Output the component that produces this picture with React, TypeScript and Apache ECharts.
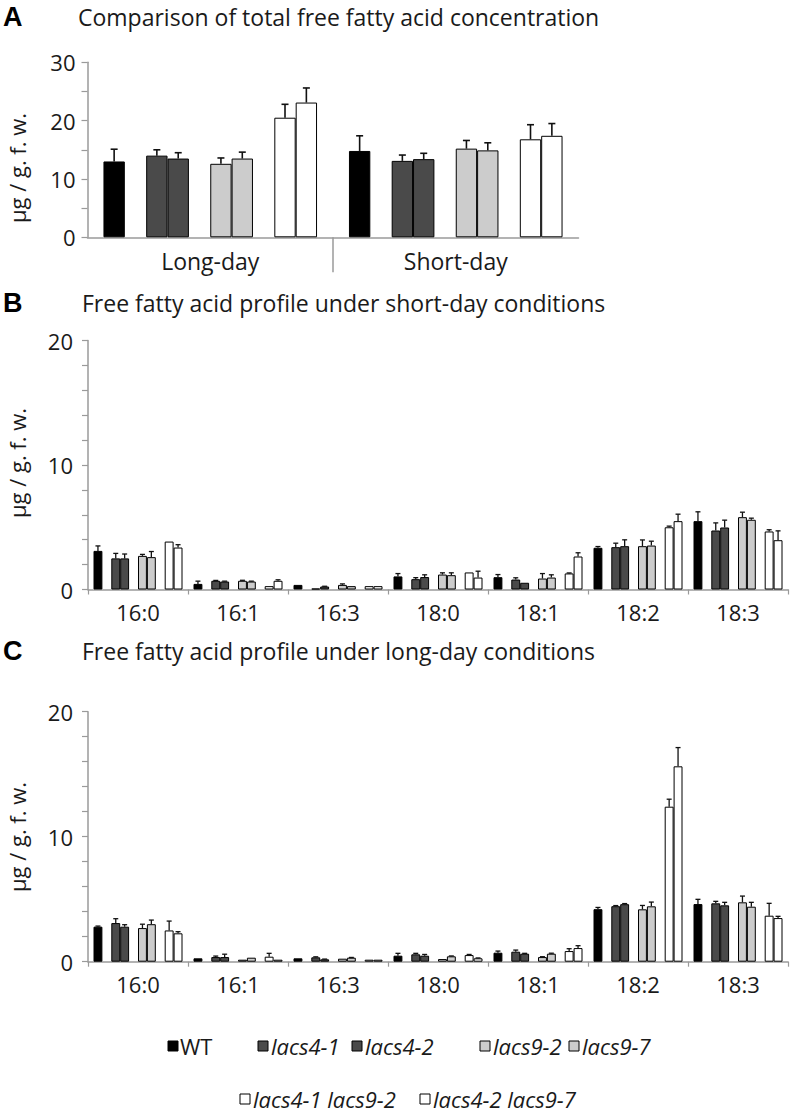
import React, { useEffect, useRef } from "react";
import * as echarts from "echarts";

// ---------- data ----------
const genotypes = ["WT", "lacs4-1", "lacs4-2", "lacs9-2", "lacs9-7", "lacs4-1 lacs9-2", "lacs4-2 lacs9-7"];
const genotypeColors = ["#000000", "#4a4a4a", "#4a4a4a", "#cccccc", "#cccccc", "#ffffff", "#ffffff"];

const conditions = ["Long-day", "Short-day"];
const totalLongDay = [13.0, 14.0, 13.5, 12.6, 13.5, 20.5, 23.1];
const totalLongDayErr = [2.1, 1.0, 1.0, 1.0, 1.1, 2.3, 2.5];
const totalShortDay = [14.8, 13.1, 13.4, 15.2, 14.9, 16.8, 17.4];
const totalShortDayErr = [2.6, 1.0, 1.0, 1.4, 1.3, 2.5, 2.1];

const fattyAcids = ["16:0", "16:1", "16:3", "18:0", "18:1", "18:2", "18:3"];

// rows: genotypes, columns: fatty acids
const shortDayMean = [
  [3.1, 0.45, 0.37, 1.05, 0.99, 3.35, 5.49],
  [2.5, 0.7, 0.08, 0.83, 0.8, 3.4, 4.74],
  [2.5, 0.64, 0.24, 1.0, 0.54, 3.48, 4.98],
  [2.7, 0.7, 0.37, 1.2, 0.88, 3.48, 5.81],
  [2.6, 0.64, 0.27, 1.15, 0.96, 3.53, 5.6],
  [3.85, 0.27, 0.27, 1.37, 1.29, 5.0, 4.66],
  [3.37, 0.7, 0.27, 0.96, 2.65, 5.49, 3.96],
];
const shortDayErr = [
  [0.4, 0.22, 0, 0.23, 0.21, 0.1, 0.75],
  [0.4, 0.03, 0, 0.12, 0.14, 0.32, 0.61],
  [0.35, 0.03, 0.02, 0.18, 0, 0.51, 0.59],
  [0.12, 0.04, 0.08, 0.14, 0.4, 0.5, 0.4],
  [0.45, 0.03, 0, 0.19, 0.22, 0.35, 0.13],
  [0, 0, 0, 0, 0.04, 0.09, 0.14],
  [0.23, 0.08, 0, 0.51, 0.3, 0.56, 0.75],
];
const longDayMean = [
  [2.8, 0.27, 0.27, 0.48, 0.72, 4.2, 4.61],
  [3.09, 0.37, 0.35, 0.59, 0.8, 4.44, 4.67],
  [2.8, 0.37, 0.19, 0.48, 0.64, 4.6, 4.51],
  [2.69, 0.16, 0.24, 0.21, 0.37, 4.19, 4.75],
  [3.0, 0.32, 0.32, 0.43, 0.64, 4.43, 4.4],
  [2.5, 0.4, 0.16, 0.53, 0.85, 12.4, 3.68],
  [2.27, 0.16, 0.16, 0.27, 1.09, 15.63, 3.49],
];
const longDayErr = [
  [0.05, 0, 0, 0.19, 0.13, 0.14, 0.38],
  [0.35, 0.08, 0.04, 0.08, 0.13, 0.05, 0.16],
  [0.16, 0.23, 0.02, 0.1, 0.03, 0.05, 0.24],
  [0.31, 0, 0, 0, 0.03, 0.31, 0.5],
  [0.33, 0, 0.02, 0.03, 0.04, 0.34, 0.35],
  [0.75, 0.27, 0, 0.05, 0.19, 0.6, 0.99],
  [0.13, 0, 0, 0.03, 0.19, 1.5, 0.14],
];

const yTicksA = [0, 10, 20, 30];
const yTicksBC = [0, 10, 20];

// ---------- styling ----------
const FONT = "Open Sans";
const AXIS_GRAY = "#9a9a9a";
const TEXT = "#1a1a1a";
const SLOT_OF = [0, 2, 3, 5, 6, 8, 9]; // bar slot per genotype within a category (10 slots)

function barSeries(xAxisIndex: number, yAxisIndex: number, rows: number[][], catCount: number, gap: number) {
  const out: any[] = [];
  for (let slot = 0; slot < 10; slot++) {
    const gi = SLOT_OF.indexOf(slot);
    if (gi < 0) {
      out.push({
        type: "bar",
        xAxisIndex,
        yAxisIndex,
        barGap: 0,
        barCategoryGap: gap * 100 + "%",
        data: new Array(catCount).fill("-"),
        silent: true,
      });
    } else {
      out.push({
        type: "bar",
        name: genotypes[gi],
        xAxisIndex,
        yAxisIndex,
        barGap: 0,
        barCategoryGap: gap * 100 + "%",
        itemStyle: { color: genotypeColors[gi], borderColor: "#000", borderWidth: 1 },
        data: rows[gi],
      });
    }
  }
  return out;
}

function errSeries(
  xAxisIndex: number,
  yAxisIndex: number,
  means: number[][],
  errs: number[][],
  gap: number,
  capW: number,
  lw: number
) {
  return genotypes.map((_, gi) => {
    const slot = SLOT_OF[gi];
    return {
      type: "custom",
      xAxisIndex,
      yAxisIndex,
      z: 10,
      silent: true,
      data: means[gi].map((m, ci) => [ci, m, errs[gi][ci]]),
      renderItem: (params: any, api: any) => {
        const cat = api.value(0);
        const m = api.value(1);
        const e = api.value(2);
        if (!e) return null;
        const band = api.size([1, 0])[0];
        const slotW = (band * (1 - gap)) / 10;
        const base = api.coord([cat, m]);
        const top = api.coord([cat, m + e]);
        const x = base[0] + (slot - 4.5) * slotW;
        return {
          type: "group",
          children: [
            { type: "line", shape: { x1: x, y1: base[1], x2: x, y2: top[1] }, style: { stroke: "#111", lineWidth: lw } },
            {
              type: "line",
              shape: { x1: x - capW / 2, y1: top[1], x2: x + capW / 2, y2: top[1] },
              style: { stroke: "#111", lineWidth: lw },
            },
          ],
        };
      },
    };
  });
}

function valueAxis(gridIndex: number, max: number, interval: number, labels: number[], margin: number) {
  return {
    type: "value",
    gridIndex,
    min: 0,
    max,
    interval,
    axisLine: { show: true, lineStyle: { color: AXIS_GRAY, width: 1.5 } },
    axisTick: { show: true, inside: false, length: 6, lineStyle: { color: AXIS_GRAY, width: 1.2 } },
    splitLine: { show: false },
    axisLabel: {
      margin,
      color: TEXT,
      fontFamily: FONT,
      fontSize: 22,
      formatter: (v: number) => (labels.indexOf(v) >= 0 ? String(v) : ""),
    },
  };
}

function catAxis(gridIndex: number, data: string[], tickLen: number, showTick: boolean, margin: number, size: number) {
  return {
    type: "category",
    gridIndex,
    data,
    position: "bottom",
    axisLine: { show: true, lineStyle: { color: AXIS_GRAY, width: 1.5 } },
    axisTick: { show: showTick, length: tickLen, lineStyle: { color: AXIS_GRAY, width: 1.2 } },
    axisLabel: { margin, color: TEXT, fontFamily: FONT, fontSize: size },
    splitLine: { show: false },
  };
}

function buildLegend() {
  const row1 = [
    { gi: 0, rx: 168, tx: 180 },
    { gi: 1, rx: 258, tx: 271 },
    { gi: 2, rx: 352, tx: 365 },
    { gi: 3, rx: 480, tx: 493 },
    { gi: 4, rx: 569, tx: 582 },
  ];
  const row2 = [
    { gi: 5, rx: 240, tx: 253 },
    { gi: 6, rx: 420, tx: 433 },
  ];
  const items: any[] = [];
  const add = (list: any[], cy: number) => {
    list.forEach((it) => {
      items.push({
        type: "rect",
        shape: { x: it.rx, y: cy - 5, width: 10, height: 10 },
        style: { fill: genotypeColors[it.gi], stroke: "#000", lineWidth: 1 },
      });
      items.push({
        type: "text",
        x: it.tx,
        y: cy,
        style: {
          text: genotypes[it.gi],
          fill: TEXT,
          font: `${it.gi === 0 ? "normal" : "italic"} 22px "${FONT}"`,
          verticalAlign: "middle",
          textAlign: "left",
        },
      });
    });
  };
  add(row1, 1046);
  add(row2, 1099);
  return items;
}

function titles() {
  const t: any[] = [];
  const panel = (letter: string, ly: number, text: string, tx: number) => {
    t.push({
      type: "text",
      x: 3,
      y: ly,
      style: { text: letter, fill: "#000", font: `bold 27px "Liberation Sans"`, verticalAlign: "middle" },
    });
    t.push({
      type: "text",
      x: tx,
      y: ly,
      style: { text, fill: TEXT, font: `23px "${FONT}"`, verticalAlign: "middle" },
    });
  };
  panel("A", 17, "Comparison of total free fatty acid concentration", 78);
  panel("B", 303, "Free fatty acid profile under short-day conditions", 82);
  panel("C", 651, "Free fatty acid profile under long-day conditions", 82);
  const yName = (cy: number) => ({
    type: "text",
    x: 17,
    y: cy,
    rotation: Math.PI / 2,
    style: {
      text: "µg / g. f. w.",
      fill: TEXT,
      font: `22px "${FONT}"`,
      textAlign: "center",
      verticalAlign: "middle",
    },
  });
  t.push(yName(168));
  t.push(yName(463));
  t.push(yName(837));
  return t;
}

export default function App() {
  const ref = useRef<HTMLDivElement>(null);
  useEffect(() => {
    if (!ref.current) return;
    const chart = echarts.init(ref.current, null, { renderer: "svg" });
    const gapA = 0.13;
    const gapBC = 0.11;
    const aRows = genotypes.map((_, gi) => [totalLongDay[gi], totalShortDay[gi]]);
    const aErrs = genotypes.map((_, gi) => [totalLongDayErr[gi], totalShortDayErr[gi]]);
    const option: any = {
      animation: false,
      backgroundColor: "#ffffff",
      grid: [
        { left: 87.5, top: 62.3, width: 491, height: 175, containLabel: false },
        { left: 88, top: 340.5, width: 700, height: 249, containLabel: false },
        { left: 88, top: 711.7, width: 700, height: 250, containLabel: false },
      ],
      xAxis: [
        catAxis(0, conditions, 5, false, 12, 23),
        {
          type: "value",
          gridIndex: 0,
          position: "bottom",
          min: 0,
          max: 2,
          interval: 1,
          axisLine: { show: false },
          axisLabel: { show: false },
          splitLine: { show: false },
          axisTick: { show: true, customValues: [1], length: 35, lineStyle: { color: AXIS_GRAY, width: 1.5 } },
        },
        catAxis(1, fattyAcids, 5, true, 11, 22),
        catAxis(2, fattyAcids, 5, true, 11, 22),
      ],
      yAxis: [
        valueAxis(0, 30, 5, yTicksA, 12),
        valueAxis(1, 20, 2, yTicksBC, 15),
        valueAxis(2, 20, 2, yTicksBC, 15),
      ],
      series: [
        ...barSeries(0, 0, aRows, 2, gapA),
        ...errSeries(0, 0, aRows, aErrs, gapA, 7, 1.6),
        ...barSeries(2, 1, shortDayMean, 7, gapBC),
        ...errSeries(2, 1, shortDayMean, shortDayErr, gapBC, 5, 1.3),
        ...barSeries(3, 2, longDayMean, 7, gapBC),
        ...errSeries(3, 2, longDayMean, longDayErr, gapBC, 5, 1.3),
      ],
      graphic: [...titles(), ...buildLegend()],
    };
    chart.setOption(option);
    return () => chart.dispose();
  }, []);
  return (
    <div
      ref={ref}
      style={{ position: "absolute", left: 0, top: 0, width: 793, height: 1117, background: "#fff" }}
    />
  );
}
